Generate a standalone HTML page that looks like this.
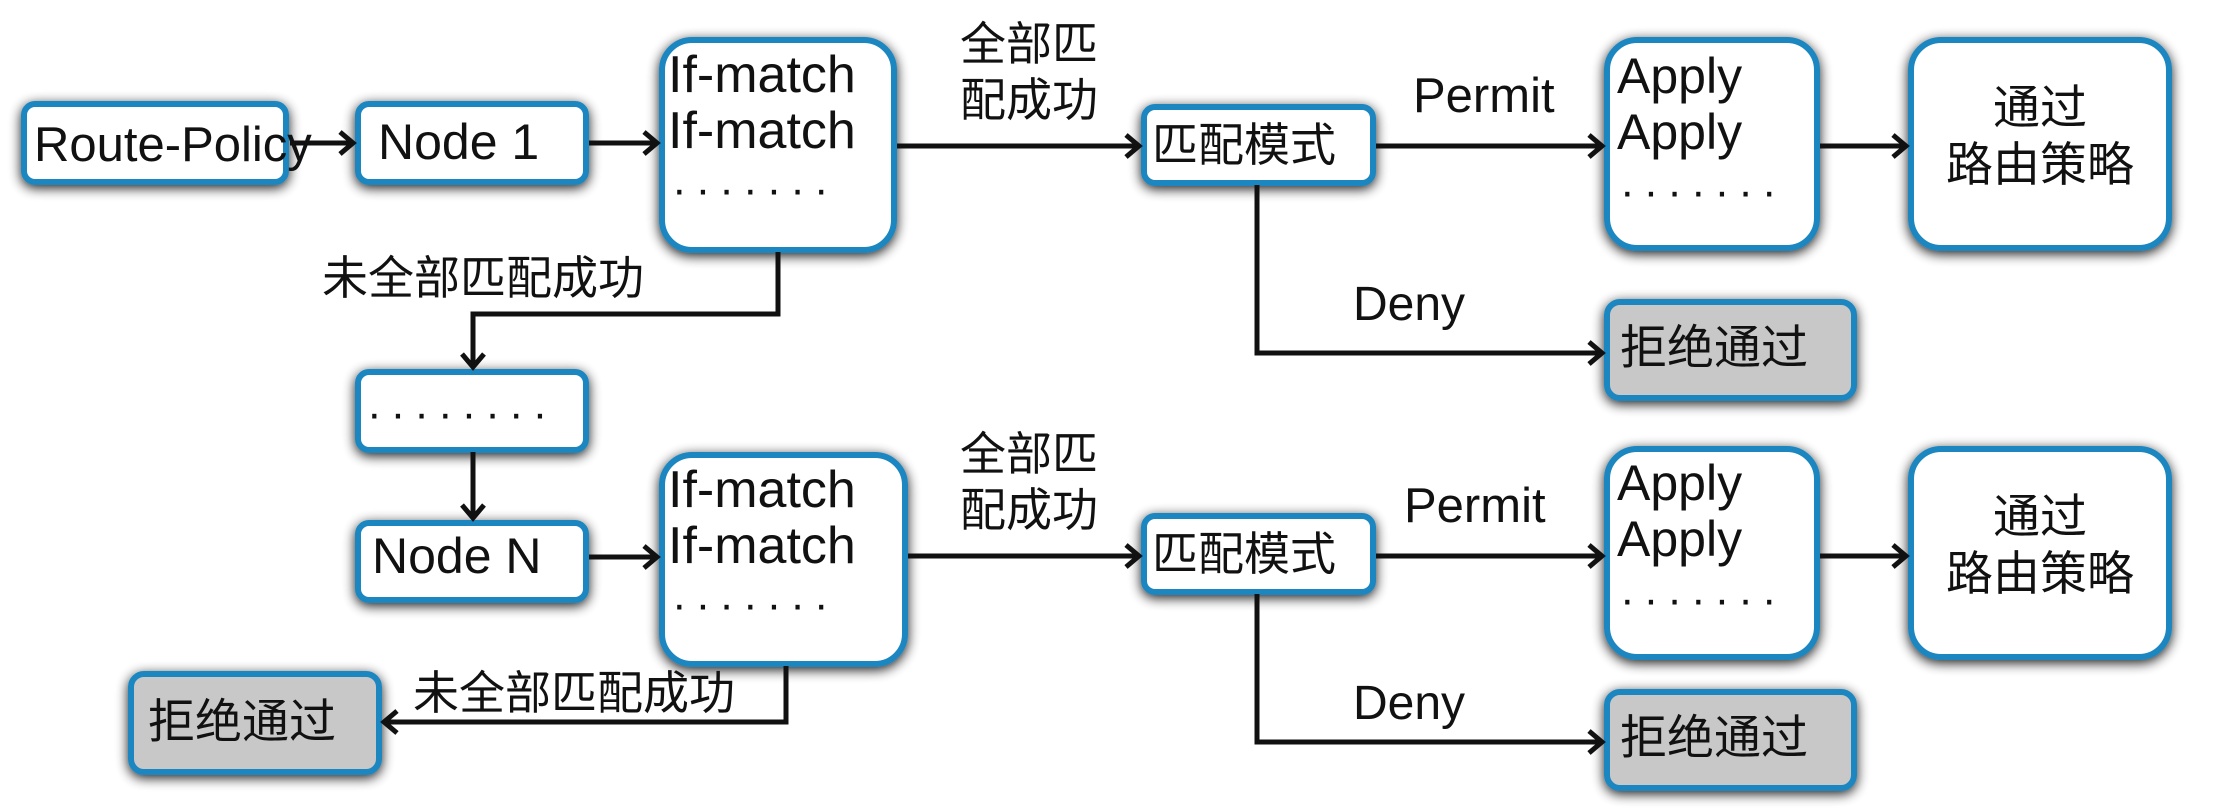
<!DOCTYPE html>
<html><head><meta charset="utf-8"><style>
html,body{margin:0;padding:0;background:#fff;}
svg{display:block;}
text{font-family:"Liberation Sans","Noto Sans CJK SC",sans-serif;fill:#111;}
</style></head><body>
<svg width="2217" height="808" viewBox="0 0 2217 808" xmlns="http://www.w3.org/2000/svg">
<defs>
<filter id="sh" x="-20%" y="-20%" width="140%" height="140%">
<feGaussianBlur in="SourceAlpha" stdDeviation="6"/>
<feOffset dx="0" dy="3"/>
<feComponentTransfer><feFuncA type="linear" slope="0.9"/></feComponentTransfer>
<feMerge><feMergeNode/><feMergeNode in="SourceGraphic"/></feMerge>
</filter>
<marker id="ar" markerWidth="20" markerHeight="26" refX="17" refY="13" orient="auto" markerUnits="userSpaceOnUse">
<path d="M3,2 L16,13 L3,24" fill="none" stroke="#111" stroke-width="5"/>
</marker>
</defs>
<g stroke="#1a86c0" stroke-width="6" filter="url(#sh)">
<rect x="24" y="104" width="262" height="78" rx="11" fill="#fff"/>
<rect x="358" y="104" width="228" height="78" rx="11" fill="#fff"/>
<rect x="662" y="40" width="232" height="210" rx="30" fill="#fff"/>
<rect x="1144" y="107" width="229" height="76" rx="11" fill="#fff"/>
<rect x="1607" y="40" width="210" height="208" rx="30" fill="#fff"/>
<rect x="1911" y="40" width="258" height="208" rx="30" fill="#fff"/>
<rect x="1607" y="302" width="247" height="96" rx="13" fill="#c8c8c8"/>
<rect x="358" y="372" width="228" height="78" rx="11" fill="#fff"/>
<rect x="358" y="523" width="228" height="77" rx="11" fill="#fff"/>
<rect x="662" y="455" width="243" height="209" rx="30" fill="#fff"/>
<rect x="1144" y="516" width="229" height="76" rx="11" fill="#fff"/>
<rect x="1607" y="449" width="210" height="208" rx="30" fill="#fff"/>
<rect x="1911" y="449" width="258" height="208" rx="30" fill="#fff"/>
<rect x="1607" y="692" width="247" height="96" rx="13" fill="#c8c8c8"/>
<rect x="131" y="674" width="248" height="98" rx="13" fill="#c8c8c8"/>
</g>
<g stroke="#111" stroke-width="5" fill="none" marker-end="url(#ar)">
<line x1="290" y1="143" x2="354" y2="143"/>
<line x1="589" y1="143" x2="658" y2="143"/>
<line x1="897" y1="146" x2="1140" y2="146"/>
<line x1="1376" y1="146" x2="1603" y2="146"/>
<line x1="1820" y1="146" x2="1907" y2="146"/>
<polyline points="1257,185 1257,353 1603,353"/>
<polyline points="778,252 778,314 473,314 473,368"/>
<line x1="473" y1="452" x2="473" y2="519"/>
<line x1="589" y1="557" x2="658" y2="557"/>
<line x1="908" y1="556" x2="1140" y2="556"/>
<line x1="1376" y1="556" x2="1603" y2="556"/>
<line x1="1820" y1="556" x2="1907" y2="556"/>
<polyline points="1257,594 1257,742 1603,742"/>
<polyline points="786,666 786,722 383,722"/>
</g>
<g font-size="52">
<text x="34" y="161" font-size="49">Route-Policy</text>
<text x="378" y="159" font-size="50">Node 1</text>
<text x="668" y="92">If-match</text>
<text x="668" y="148">If-match</text>
<text x="672" y="204" font-size="44" letter-spacing="9">·······</text>
<text x="960" y="60" font-size="46">全部匹</text>
<text x="960" y="116" font-size="46">配成功</text>
<text x="1152" y="161" font-size="46">匹配模式</text>
<text x="1413" y="112" font-size="49">Permit</text>
<text x="1617" y="93" font-size="50">Apply</text>
<text x="1617" y="149" font-size="50">Apply</text>
<text x="1620" y="206" font-size="44" letter-spacing="9">·······</text>
<text x="2040" y="124" text-anchor="middle" font-size="47">通过</text>
<text x="2040" y="181" text-anchor="middle" font-size="47">路由策略</text>
<text x="1353" y="320" font-size="48">Deny</text>
<text x="1620" y="364" font-size="47">拒绝通过</text>
<text x="322" y="294" font-size="46">未全部匹配成功</text>
<text x="367" y="428" font-size="44" letter-spacing="9">········</text>
<text x="372" y="573" font-size="50">Node N</text>
<text x="668" y="507">If-match</text>
<text x="668" y="563">If-match</text>
<text x="672" y="619" font-size="44" letter-spacing="9">·······</text>
<text x="960" y="470" font-size="46">全部匹</text>
<text x="960" y="526" font-size="46">配成功</text>
<text x="1152" y="570" font-size="46">匹配模式</text>
<text x="1404" y="522" font-size="49">Permit</text>
<text x="1617" y="500" font-size="50">Apply</text>
<text x="1617" y="556" font-size="50">Apply</text>
<text x="1620" y="614" font-size="44" letter-spacing="9">·······</text>
<text x="2040" y="533" text-anchor="middle" font-size="47">通过</text>
<text x="2040" y="590" text-anchor="middle" font-size="47">路由策略</text>
<text x="1353" y="719" font-size="48">Deny</text>
<text x="1620" y="754" font-size="47">拒绝通过</text>
<text x="413" y="709" font-size="46">未全部匹配成功</text>
<text x="148" y="738" font-size="47">拒绝通过</text>
</g>
</svg>
</body></html>
